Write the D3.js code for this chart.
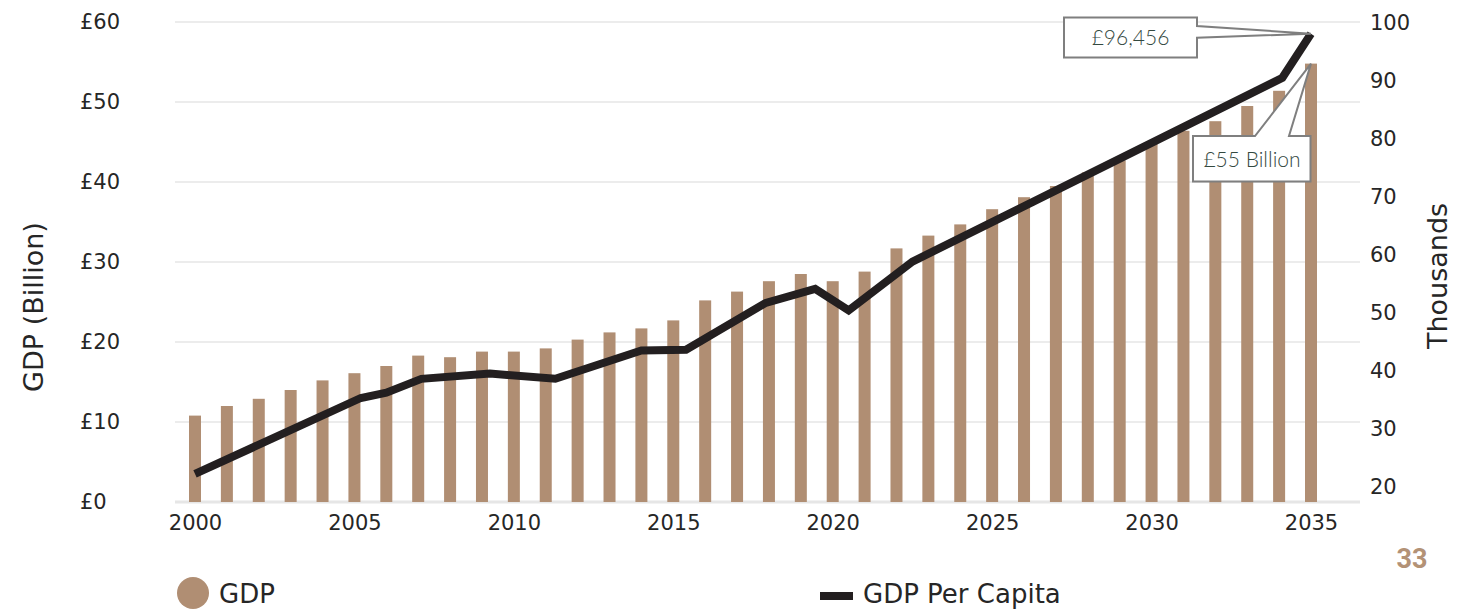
<!DOCTYPE html>
<html>
<head>
<meta charset="utf-8">
<script src="https://cdn.jsdelivr.net/npm/d3@7/dist/d3.min.js"></script>
<style>
  body { margin: 0; background: #fff; }
  svg text { font-family: "DejaVu Sans", sans-serif; fill: #262626; }
  .domain { display: none; }
</style>
</head>
<body>
<svg id="chart" width="1471" height="610"></svg>
<script>
// categories
const years = d3.range(2000, 2036);
const yearTicks = [2000, 2005, 2010, 2015, 2020, 2025, 2030, 2035];

// GDP (£ billion) per year - bars
const gdpBillion = [10.8, 12.0, 12.9, 14.0, 15.2, 16.1, 17.0, 18.3, 18.1, 18.8,
                    18.8, 19.2, 20.3, 21.2, 21.7, 22.7, 25.2, 26.3, 27.6, 28.5,
                    27.6, 28.8, 31.7, 33.3, 34.7, 36.6, 38.1, 39.5, 41.2, 42.7,
                    44.8, 46.4, 47.6, 49.5, 51.4, 54.8];

// GDP per capita (thousands) - line corners
const perCapitaYear = [2000, 2005.2, 2006, 2007.1, 2009.25, 2011.3, 2014, 2015.4,
                       2017.9, 2019.45, 2020.5, 2022.5, 2034.1, 2035];
const perCapitaK = [22.2, 35.3, 36.2, 38.6, 39.5, 38.6, 43.5, 43.6,
                    51.7, 54.1, 50.4, 58.8, 90.5, 98.1];

// axis ticks
const gdpTicks = [0, 10, 20, 30, 40, 50, 60];
const perCapitaTicks = [20, 30, 40, 50, 60, 70, 80, 90, 100];

const perCapitaLabel = "£96,456";
const gdpLabel = "£55 Billion";

const barColor = "#b08e73";
const lineColor = "#231f20";

let svg = d3.select("#chart");

let x = d3.scaleLinear().domain([2000, 2035]).range([195, 1311]);
let yL = d3.scaleLinear().domain([0, 60]).range([502, 22]);
let yR = d3.scaleLinear().domain([20, 100]).range([486.7, 22.7]);

//gridlines
svg.append("g").selectAll("line").data(gdpTicks).join("line")
    .attr("x1", 175)
    .attr("x2", 1360)
    .attr("y1", d => yL(d))
    .attr("y2", d => yL(d))
    .attr("stroke", d => d == 0 ? "#e6e6e6" : "#ececec")
    .attr("stroke-width", d => d == 0 ? 3 : 2);

//bars
let barW = 12;
svg.append("g").selectAll("rect").data(years).join("rect")
    .attr("x", (d) => x(d) - barW / 2)
    .attr("y", (d, i) => yL(gdpBillion[i]))
    .attr("width", barW)
    .attr("height", (d, i) => yL(0) - yL(gdpBillion[i]))
    .attr("fill", barColor);

//line
let line = d3.line()
    .x((d, i) => x(perCapitaYear[i]))
    .y(d => yR(d));
svg.append("path")
    .datum(perCapitaK)
    .attr("d", line)
    .attr("fill", "none")
    .attr("stroke", lineColor)
    .attr("stroke-width", 8)
    .attr("stroke-linejoin", "miter");

//left axis
let leftAxis = svg.append("g")
    .attr("transform", "translate(175,0)")
    .call(d3.axisLeft(yL).tickValues(gdpTicks).tickFormat(d => "£" + d).tickSize(0));
leftAxis.selectAll("text")
    .attr("x", -95)
    .attr("text-anchor", "start")
    .attr("font-size", 21);

//right axis
let rightAxis = svg.append("g")
    .attr("transform", "translate(1360,0)")
    .call(d3.axisRight(yR).tickValues(perCapitaTicks).tickSize(0));
rightAxis.selectAll("text")
    .attr("x", 10)
    .attr("font-size", 21);

//bottom axis
let bottomAxis = svg.append("g")
    .attr("transform", "translate(0,502)")
    .call(d3.axisBottom(x).tickValues(yearTicks).tickFormat(d3.format("d")).tickSize(0));
bottomAxis.selectAll("text")
    .attr("y", 13)
    .attr("font-size", 21);
svg.selectAll(".tick text").attr("font-family", "DejaVu Sans").attr("fill", "#262626");

//axis titles
svg.append("text")
    .text("GDP (Billion)")
    .attr("transform", "translate(43,307) rotate(-90)")
    .attr("text-anchor", "middle")
    .attr("font-size", 27);
svg.append("text")
    .text("Thousands")
    .attr("transform", "translate(1447,276) rotate(-90)")
    .attr("text-anchor", "middle")
    .attr("font-size", 27);

//callouts
let lastX = x(years[years.length - 1]);
let tip1 = [x(perCapitaYear[perCapitaYear.length - 1]), yR(perCapitaK[perCapitaK.length - 1])];
let tip2 = [lastX, yL(gdpBillion[gdpBillion.length - 1])];

let callout = svg.append("g");
callout.append("path")
    .attr("d", "M1064,17.5 H1197 V26 L" + tip1[0] + "," + tip1[1] + " L1197,37.7 V57.5 H1064 Z")
    .attr("fill", "#fff")
    .attr("stroke", "#7f7f7f")
    .attr("stroke-width", 2);
callout.append("text")
    .text(perCapitaLabel)
    .attr("x", 1130.5)
    .attr("y", 45)
    .attr("text-anchor", "middle")
    .attr("font-weight", 300)
    .attr("font-size", 21)
    .style("font-family", "Lato, sans-serif")
    .style("fill", "#34493f");

callout.append("path")
    .attr("d", "M1193,136 H1255 L" + tip2[0] + "," + tip2[1] + " L1289,136 H1310.5 V181.5 H1193 Z")
    .attr("fill", "#fff")
    .attr("stroke", "#7f7f7f")
    .attr("stroke-width", 2);
callout.append("text")
    .text(gdpLabel)
    .attr("x", 1252)
    .attr("y", 166.5)
    .attr("text-anchor", "middle")
    .attr("font-weight", 300)
    .attr("font-size", 21)
    .style("font-family", "Lato, sans-serif")
    .style("fill", "#34493f");

//legend
svg.append("circle")
    .attr("cx", 193)
    .attr("cy", 593)
    .attr("r", 16)
    .attr("fill", barColor);
svg.append("text")
    .text("GDP")
    .attr("x", 219)
    .attr("y", 603)
    .attr("font-size", 26);
svg.append("rect")
    .attr("x", 820)
    .attr("y", 592)
    .attr("width", 33)
    .attr("height", 8)
    .attr("fill", lineColor);
svg.append("text")
    .text("GDP Per Capita")
    .attr("x", 863)
    .attr("y", 603)
    .attr("font-size", 26);

//page number
svg.append("text")
    .text("33")
    .attr("x", 1412)
    .attr("y", 568)
    .attr("text-anchor", "middle")
    .attr("font-weight", "bold")
    .attr("font-size", 27)
    .style("font-family", "Roboto, sans-serif")
    .style("fill", "#b39276");
</script>
</body>
</html>
